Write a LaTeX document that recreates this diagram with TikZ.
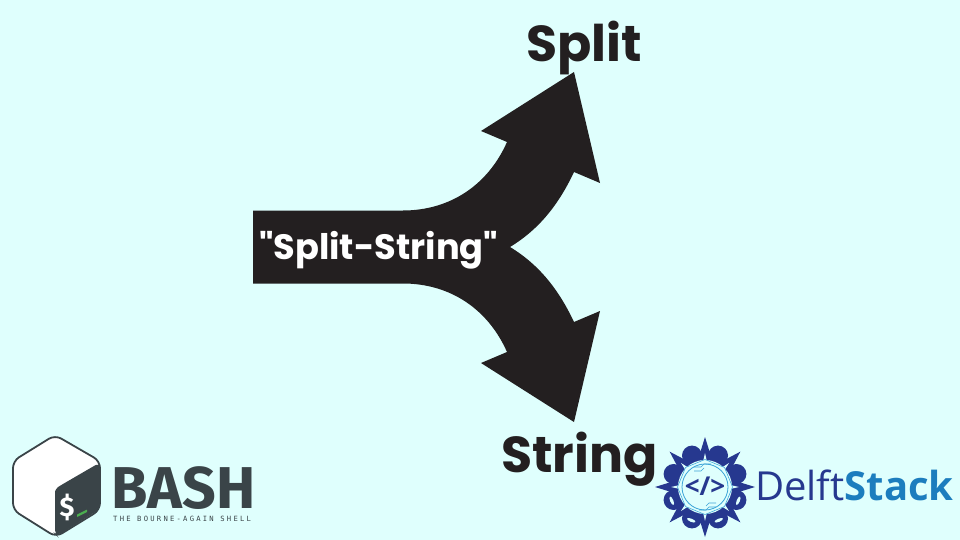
\documentclass[tikz,border=0pt]{standalone}
\usepackage{fontspec}
\setmainfont{Poppins}[Ligatures=TeXOff]
\newfontfamily\logofont{Open Sans}
\newfontfamily\bashfont{Fira Sans}
\newfontfamily\monofont{DejaVu Sans Mono}[LetterSpace=31]
\definecolor{bgc}{HTML}{DFFFFD}
\definecolor{ink}{HTML}{231F20}
\definecolor{bashd}{HTML}{3A4448}
\definecolor{bashg}{HTML}{4CAF50}
\definecolor{delftd}{HTML}{26388F}
\definecolor{delftl}{HTML}{1C7DBE}
\definecolor{delftc}{HTML}{3BA4D8}
\tikzset{
  bigword/.style={font=\fontsize{50.5}{50}\selectfont\bfseries,text=ink,inner sep=0pt,anchor=base west},
  arrowshape/.style={fill=ink,draw=none},
  lobe/.style={fill=delftd,draw=none},
  circuit/.style={draw=delftc,line width=.55pt},
}
\begin{document}
\begin{tikzpicture}[x=1pt,y=-1pt]
\useasboundingbox (0,0) rectangle (960,540);
\fill[bgc] (0,0) rectangle (960,540);
% forked arrow
\fill[arrowshape] (253,210.5) -- (403,210.5)
  .. controls (450,210.5) and (488,185) .. (507,142)
  -- (481,131) -- (574,72) -- (600,183) -- (574,172)
  .. controls (558,206) and (538,230) .. (510,247)
  .. controls (538,264) and (558,288) .. (574,322)
  -- (600,311) -- (574,422) -- (481,363) -- (507,352)
  .. controls (488,309) and (450,283.5) .. (403,283.5)
  -- (253,283.5) -- cycle;
\node[font=\fontsize{35.2}{35}\selectfont\bfseries,text=white,inner sep=0pt,anchor=base west] (mid) at (259,259.5) {"Split-String"};
\node[bigword] (split) at (526,62) {Split};
\node[bigword] (string) at (501,472) {String};
% bash logo
\draw[fill=white,draw=bashd,line width=1.8pt,line join=round,rounded corners=7pt] (55,435) -- (100,461) -- (100,510) -- (56,537) -- (13,510) -- (13,461) -- cycle;
\fill[bashd,rounded corners=5pt] (55,497) .. controls (55,490) and (58,487) .. (63,484) -- (100,462.5) -- (100,509) -- (57,536) -- (55,534) -- cycle;
\node[font=\bashfont\fontsize{27}{27}\selectfont\bfseries,text=white,inner sep=0pt] (dollar) at (67,507) {\$};
\fill[bashg,rounded corners=0.5pt] (77,514.5) -- (87,509.5) -- (87,512) -- (77,517) -- cycle;
\node[font=\bashfont\fontsize{59}{59}\selectfont\bfseries,text=bashd,inner sep=0pt,anchor=base west] (bash) at (111.5,508) {BASH};
\node[font=\monofont\fontsize{7.2}{7.2}\selectfont,text=bashd,inner sep=0pt,anchor=base west] (sub) at (113,521.5) {THE BOURNE-AGAIN SHELL};
% delft logo
\begin{scope}[shift={(705,487)}]
  \foreach \a in {0,45,...,315}
    \fill[lobe] (\a:50) -- (\a+16:27) -- (\a-16:27) -- cycle;
  \foreach \a in {22.5,67.5,...,360}{
    \fill[lobe] (\a:34) circle[radius=10];
    \fill[bgc,rotate=\a] (36,0) ellipse[x radius=1.6,y radius=4.5];
  }
  \fill[lobe] (0,0) circle[radius=31];
  \fill[bgc] (0,0) circle[radius=27];
  \foreach \a in {0,45,...,315}
    \fill[bgc] (\a:34) -- (\a+4:26) -- (\a-4:26) -- cycle;
  \draw[delftc,line width=.8pt] (0,0) circle[radius=23];
  \draw[circuit] (0,-27.5) -- (19.5,-19.5) -- (27.5,0) -- (19.5,19.5) -- (0,27.5) -- (-19.5,19.5) -- (-27.5,0) -- (-19.5,-19.5) -- cycle;
  \draw[circuit] (-11,-20) -- (-4,-20) -- (-1,-23) -- (6,-23);
  \draw[circuit] (-11,-16) -- (-4,-16) -- (-1,-19);
  \draw[circuit] (11,20) -- (4,20) -- (1,23) -- (-6,23);
  \draw[circuit] (11,16) -- (4,16) -- (1,19);
  \node[font=\logofont\fontsize{26}{26}\selectfont\bfseries,text=delftd,inner sep=0pt] (code) at (0,-1) {</>};
\end{scope}
\node[font=\logofont\fontsize{40}{40}\selectfont,inner sep=0pt,anchor=base west] (delft) at (755,500) {\textcolor{delftd}{Delft}\textcolor{delftl}{\bfseries Stack}};
\end{tikzpicture}
\end{document}
